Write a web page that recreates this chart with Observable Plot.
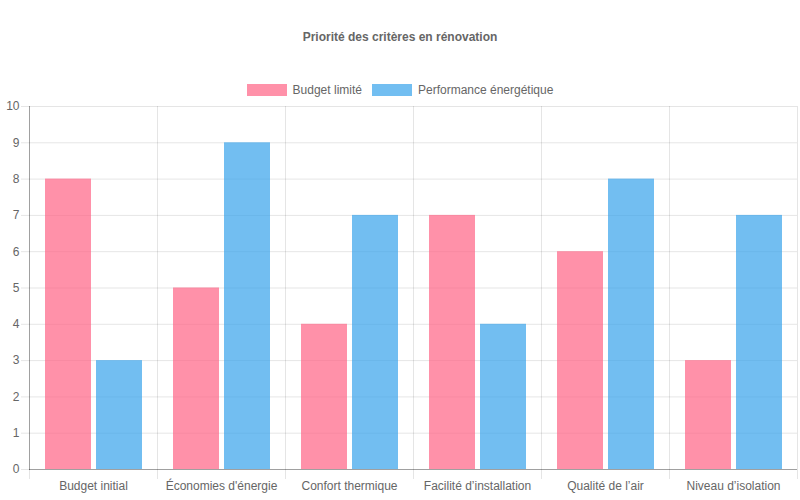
<!DOCTYPE html>
<html>
<head>
<meta charset="utf-8">
<script src="https://cdn.jsdelivr.net/npm/d3@7"></script>
<script src="https://cdn.jsdelivr.net/npm/@observablehq/plot@0.6"></script>
<style>
  html, body { margin: 0; padding: 0; background: #fff; }
  body { width: 800px; height: 500px; overflow: hidden; font-family: "Liberation Sans", Arial, Helvetica, sans-serif; }
  #title { padding-top: 30px; height: 14px; line-height: 14px; text-align: center; font-size: 12px; font-weight: bold; color: #666; }
  #legend { margin-top: 40px; height: 12px; display: flex; justify-content: center; align-items: center; font-size: 12px; color: #666; }
  .item { display: flex; align-items: center; margin: 0 5px; }
  .swatch { width: 40px; height: 12px; margin-right: 6px; box-sizing: border-box; }
  #chart { margin-top: 4px; }
</style>
</head>
<body>
<div id="title">Priorité des critères en rénovation</div>
<div id="legend"></div>
<div id="chart"></div>
<script>
const categories = ["Budget initial", "Économies d'énergie", "Confort thermique", "Facilité d’installation", "Qualité de l’air", "Niveau d’isolation"];
const seriesNames = ["Budget limité", "Performance énergétique"];
const budgetLimite = [8, 5, 4, 7, 6, 3];
const performanceEnergetique = [3, 9, 7, 4, 8, 7];
const yTicks = [0, 1, 2, 3, 4, 5, 6, 7, 8, 9, 10];
const colors = ["#ff6384", "#36a2eb"];

const table = [];
categories.forEach((c, i) => {
  table.push({category: c, series: seriesNames[0], value: budgetLimite[i]});
  table.push({category: c, series: seriesNames[1], value: performanceEnergetique[i]});
});

const legend = document.getElementById("legend");
seriesNames.forEach((s, i) => {
  const item = document.createElement("div");
  item.className = "item";
  const sw = document.createElement("div");
  sw.className = "swatch";
  sw.style.background = colors[i];
  sw.style.opacity = 0.7;
  item.appendChild(sw);
  const t = document.createElement("span");
  t.textContent = s;
  item.appendChild(t);
  legend.appendChild(item);
});

const chart = Plot.plot({
  width: 800,
  height: 400,
  marginTop: 6,
  marginBottom: 31,
  marginLeft: 29,
  marginRight: 3,
  style: {fontFamily: "Liberation Sans, Arial, sans-serif", fontSize: "12px", background: "#fff"},
  fx: {domain: categories, padding: 0, label: null},
  x: {domain: seriesNames, paddingInner: 0.1, paddingOuter: 0.3, axis: null},
  y: {domain: [0, 10], label: null},
  color: {domain: seriesNames, range: colors},
  marks: [
    Plot.gridY(yTicks, {stroke: "#000", strokeOpacity: 0.1}),
    Plot.frame({anchor: "left", stroke: "#000", strokeOpacity: 0.1, insetBottom: -9}),
    Plot.frame({anchor: "right", facetAnchor: "right", stroke: "#000", strokeOpacity: 0.1, insetBottom: -9}),
    Plot.barY(table, {fx: "category", x: "series", y: "value", fill: "series", fillOpacity: 0.7}),
    Plot.frame({anchor: "left", facetAnchor: "left", stroke: "#000", strokeOpacity: 0.3}),
    Plot.ruleY([0], {stroke: "#000", strokeOpacity: 0.3}),
    Plot.axisY(yTicks, {tickSize: 8, tickPadding: 2, stroke: "#000", strokeOpacity: 0.1, fill: "#666", tickFormat: d => d, label: null}),
    Plot.axisFx({anchor: "bottom", tickSize: 0, tickPadding: 12, fill: "#666", label: null})
  ]
});
document.getElementById("chart").appendChild(chart);
</script>
</body>
</html>
